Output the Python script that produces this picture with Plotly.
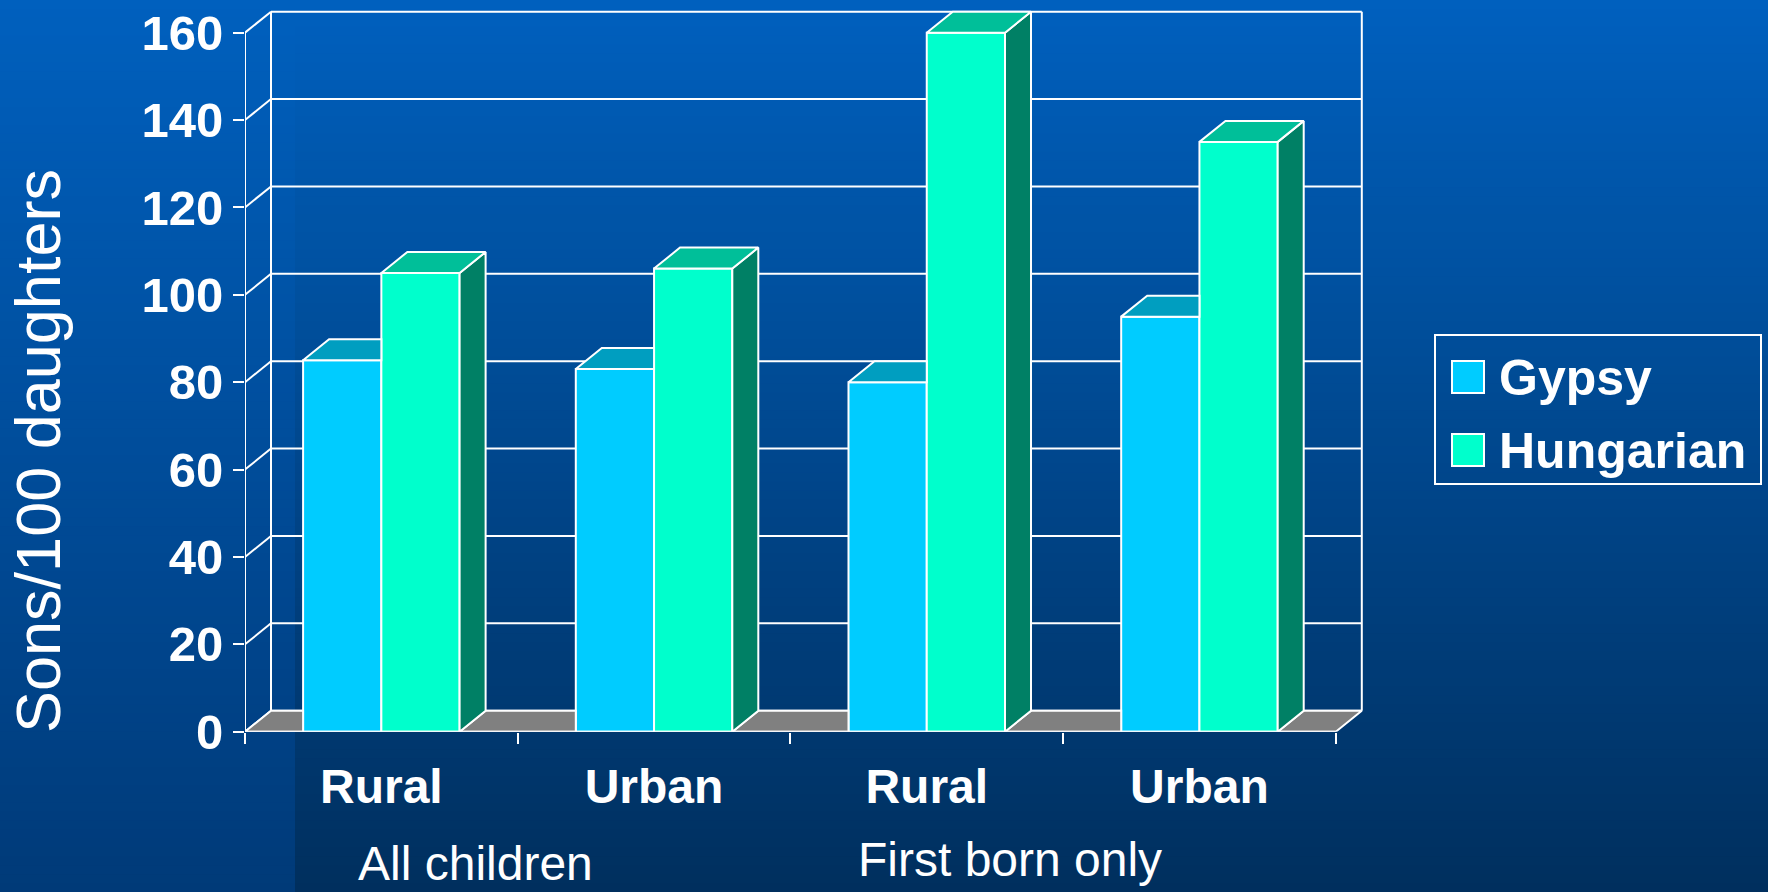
import plotly.graph_objects as go

# ---------------- data ----------------
categories = ["Rural", "Urban", "Rural", "Urban"]
groups = ["All children", "First born only"]
series_names = ["Gypsy", "Hungarian"]
gypsy = [85, 83, 80, 95]
hungarian = [105, 106, 160, 135]
y_ticks = [0, 20, 40, 60, 80, 100, 120, 140, 160]

# ---------------- styling / geometry ----------------
W, H = 1768, 892
FONT = "Liberation Sans, Arial, Helvetica, sans-serif"
front_colors = ["#00CCFF", "#00FFCC"]
top_colors = ["#009EC0", "#00BF99"]
side_color = "#008065"
floor_color = "#808080"

px_left = 245.0       # pixel x of front axis
px_unit = 272.7       # pixels per category
px_y0 = 731.7         # pixel y of value 0
px_per_val = 4.369    # pixels per value unit
dx_px, dy_px = 26.0, 21.0
dxu = dx_px / px_unit
dyu = dy_px / px_per_val
bargap = 0.426
hw = (1 - bargap) / 2

n = len(categories)
xpos = list(range(1, n + 1))
x_range = [0.5, n + 0.5 + dxu + 0.012]
y_top_px = 7.0
y_range = [0, (px_y0 - y_top_px) / px_per_val]
x_dom = [px_left / W, (px_left + (x_range[1] - x_range[0]) * px_unit) / W]
y_dom = [(H - px_y0) / H, (H - y_top_px) / H]


def px(x):
    return x / W


def py(y):
    return 1 - y / H


fig = go.Figure()

# front faces (real bars)
for name, vals, col in zip(series_names, [gypsy, hungarian], front_colors):
    fig.add_trace(go.Bar(
        x=xpos, y=vals, name=name, marker=dict(color=col, line=dict(color="white", width=2)),
        showlegend=False, hoverinfo="x+y+name"))


def poly_trace(polys, fill, name):
    xs, ys = [], []
    for p in polys:
        for (a, b) in p + [p[0]]:
            xs.append(a)
            ys.append(b)
        xs.append(None)
        ys.append(None)
    return go.Scatter(x=xs, y=ys, mode="lines", fill="toself", fillcolor=fill,
                      line=dict(color="white", width=2), hoverinfo="skip",
                      showlegend=False, name=name)


# floor pieces between bars
floor = []
left_edge = 0.5
for c in xpos:
    b = c - hw
    floor.append([(left_edge, 0), (left_edge + dxu, dyu), (b, dyu), (b, 0)])
    left_edge = c + hw
floor.append([(left_edge, 0), (left_edge + dxu, dyu), (n + 0.5 + dxu, dyu), (n + 0.5, 0)])

g_tops, h_tops, h_sides = [], [], []
for c, g, h in zip(xpos, gypsy, hungarian):
    g_tops.append([(c - hw, g), (c, g), (c, g + dyu), (c - hw + dxu, g + dyu)])
    h_tops.append([(c, h), (c + hw, h), (c + hw + dxu, h + dyu), (c + dxu, h + dyu)])
    h_sides.append([(c + hw, 0), (c + hw, h), (c + hw + dxu, h + dyu), (c + hw + dxu, dyu)])

fig.add_trace(poly_trace(floor, floor_color, "floor"))
fig.add_trace(poly_trace(g_tops, top_colors[0], "Gypsy top"))
fig.add_trace(poly_trace(h_sides, side_color, "Hungarian side"))
fig.add_trace(poly_trace(h_tops, top_colors[1], "Hungarian top"))

shapes = []
# background gradient strips
def lerp(c1, c2, t):
    return "rgb(%d,%d,%d)" % tuple(round(a + (b - a) * t) for a, b in zip(c1, c2))

top_c = (0, 96, 190)
bot_left = (0, 58, 120)
bot_right = (0, 47, 94)
N = 100
split = 295 / W
for i in range(N):
    t = (i + 0.5) / N
    y1 = 1 - i / N
    y0 = 1 - (i + 1) / N - 0.002
    shapes.append(dict(type="rect", xref="paper", yref="paper", x0=0, x1=split, y0=y0, y1=y1,
                       fillcolor=lerp(top_c, bot_left, t), line=dict(width=0), layer="below"))
    shapes.append(dict(type="rect", xref="paper", yref="paper", x0=split, x1=1, y0=y0, y1=y1,
                       fillcolor=lerp(top_c, bot_right, t), line=dict(width=0), layer="below"))

wl = dict(color="white", width=2)
# back wall grid + diagonals
for v in y_ticks:
    shapes.append(dict(type="line", xref="x", yref="y", x0=0.5 + dxu, x1=n + 0.5 + dxu,
                       y0=v + dyu, y1=v + dyu, line=wl, layer="below"))
    shapes.append(dict(type="line", xref="x", yref="y", x0=0.5, x1=0.5 + dxu,
                       y0=v, y1=v + dyu, line=wl, layer="below"))
for xb in [0.5 + dxu, n + 0.5 + dxu]:
    shapes.append(dict(type="line", xref="x", yref="y", x0=xb, x1=xb,
                       y0=dyu, y1=y_ticks[-1] + dyu, line=wl, layer="below"))
# front axis lines
shapes.append(dict(type="line", xref="x", yref="y", x0=0.5, x1=0.5, y0=0, y1=y_ticks[-1], line=wl))
shapes.append(dict(type="line", xref="x", yref="y", x0=0.5, x1=n + 0.5, y0=0, y1=0, line=wl))

# legend box (drawn)
shapes.append(dict(type="rect", xref="paper", yref="paper", x0=px(1435), x1=px(1761),
                   y0=py(484), y1=py(335), line=dict(color="white", width=2)))
annotations = []
for i, (name, col) in enumerate(zip(series_names, front_colors)):
    top = 361 + i * 73
    shapes.append(dict(type="rect", xref="paper", yref="paper", x0=px(1452), x1=px(1484),
                       y0=py(top + 32), y1=py(top), fillcolor=col, line=dict(color="white", width=2)))
    annotations.append(dict(text=name, xref="paper", yref="paper", x=px(1497), y=py(top + 17),
                            xanchor="left", yanchor="middle", showarrow=False,
                            font=dict(family=FONT, size=50, color="white", weight="bold")))

# axis title & group labels
annotations.append(dict(text="Sons/100 daughters", xref="paper", yref="paper", x=px(38), y=py(451),
                        textangle=-90, xanchor="center", yanchor="middle", showarrow=False,
                        font=dict(family=FONT, size=63, color="white")))
annotations.append(dict(text=groups[0], xref="paper", yref="paper", x=px(475), y=0,
                        xanchor="center", yanchor="bottom", showarrow=False,
                        font=dict(family=FONT, size=48, color="white")))
annotations.append(dict(text=groups[1], xref="paper", yref="paper", x=px(1010), y=py(859),
                        xanchor="center", yanchor="middle", showarrow=False,
                        font=dict(family=FONT, size=48, color="white")))

fig.update_layout(
    width=W, height=H,
    margin=dict(l=0, r=0, t=0, b=0, pad=0),
    paper_bgcolor="#00458F", plot_bgcolor="rgba(0,0,0,0)",
    barmode="group", bargap=bargap, bargroupgap=0,
    showlegend=False,
    shapes=shapes, annotations=annotations,
    xaxis=dict(range=x_range, domain=x_dom, tickmode="array", tickvals=xpos, ticktext=categories,
               ticks="", showline=False, showgrid=False, zeroline=False, automargin=False,
               tickfont=dict(family=FONT, size=48, color="white", weight="bold"),
               ticklabelstandoff=22,
               minor=dict(tickmode="array", tickvals=[c - 0.5 for c in xpos] + [n + 0.5],
                          ticks="outside", ticklen=11, tickwidth=2, tickcolor="white", showgrid=False)),
    yaxis=dict(range=y_range, domain=y_dom, tickmode="array", tickvals=y_ticks,
               ticks="outside", ticklen=11, tickwidth=2, tickcolor="white", automargin=False,
               showline=False, showgrid=False, zeroline=False,
               tickfont=dict(family=FONT, size=49, color="white", weight="bold")),
)

fig.write_html("out.html", config={"displayModeBar": False},
               post_script="document.body.style.margin='0';document.body.style.overflow='hidden';")
